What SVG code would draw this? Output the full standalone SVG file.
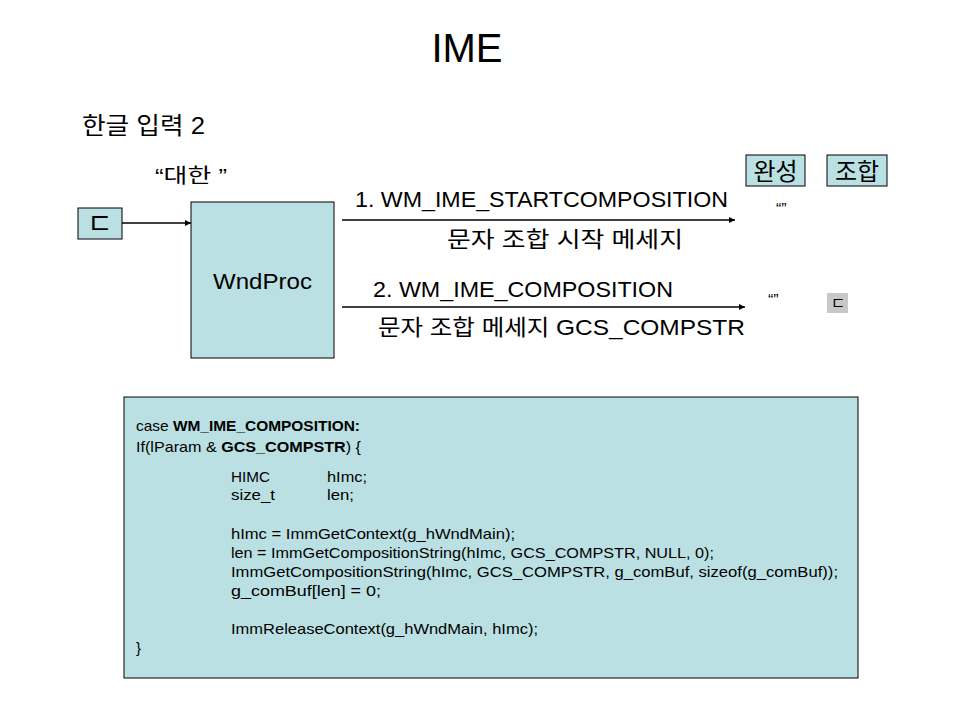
<svg xmlns="http://www.w3.org/2000/svg" width="960" height="720" viewBox="0 0 960 720">
<defs>
<style>
text{font-family:"Liberation Sans","Noto Sans CJK KR",sans-serif;fill:#000}
.box{fill:#BBE0E3;stroke:#000;stroke-width:1}
.lbl{font-size:22px}
.code{font-size:15px}
.b{font-weight:bold}
.edge{stroke:#000;stroke-width:1.3;fill:none;marker-end:url(#ah)}
</style>
<marker id="ah" viewBox="0 0 10 10" refX="10" refY="5" markerWidth="8" markerHeight="6" markerUnits="userSpaceOnUse" orient="auto">
<path d="M0,0 L10,5 L0,10 z" fill="#000"/>
</marker>
</defs>
<rect width="960" height="720" fill="#fff"/>
<text x="467" y="62" font-size="40" text-anchor="middle">IME</text>
<text x="82" y="134" font-size="24" textLength="123" lengthAdjust="spacingAndGlyphs">한글 입력 2</text>
<text x="155" y="183" font-size="20" textLength="72" lengthAdjust="spacingAndGlyphs">“대한 ”</text>

<g id="node-input">
<rect class="box" x="78" y="208" width="44" height="31"/>
<text x="100" y="234" font-size="28" text-anchor="middle">ㄷ</text>
</g>
<g id="node-wndproc">
<rect class="box" x="191" y="202" width="143" height="156"/>
<text x="213" y="289" class="lbl" textLength="99" lengthAdjust="spacingAndGlyphs">WndProc</text>
</g>
<g id="node-complete">
<rect class="box" x="746" y="155" width="59" height="31"/>
<text x="775.5" y="180" font-size="24" text-anchor="middle">완성</text>
</g>
<g id="node-compose">
<rect class="box" x="827" y="155" width="60" height="31"/>
<text x="857" y="180" font-size="24" text-anchor="middle">조합</text>
</g>
<g id="node-result">
<rect x="827" y="293" width="21" height="20" fill="#C8C8C8"/>
<text x="838" y="309" font-size="16" text-anchor="middle">ㄷ</text>
</g>

<g id="connectors">
<line class="edge" x1="122" y1="223" x2="191" y2="223"/>
<line class="edge" x1="342" y1="220" x2="735" y2="220"/>
<line class="edge" x1="342" y1="307" x2="745" y2="307"/>
</g>

<text x="355" y="207" class="lbl" textLength="373" lengthAdjust="spacingAndGlyphs">1. WM_IME_STARTCOMPOSITION</text>
<text x="447" y="247" class="lbl" textLength="236" lengthAdjust="spacingAndGlyphs">문자 조합 시작 메세지</text>
<text x="373" y="297" class="lbl" textLength="300" lengthAdjust="spacingAndGlyphs">2. WM_IME_COMPOSITION</text>
<text x="378" y="335" class="lbl" textLength="367" lengthAdjust="spacingAndGlyphs">문자 조합 메세지 GCS_COMPSTR</text>
<text x="776" y="215" font-size="16">“”</text>
<text x="768" y="306" font-size="16">“”</text>

<g id="node-code">
<rect class="box" x="124" y="397" width="734" height="281"/>
<text class="code" x="136" y="431" textLength="224" lengthAdjust="spacingAndGlyphs">case <tspan class="b">WM_IME_COMPOSITION:</tspan></text>
<text class="code" x="136" y="452" textLength="225" lengthAdjust="spacingAndGlyphs">If(lParam &amp; <tspan class="b">GCS_COMPSTR</tspan>) {</text>
<text class="code" x="231" y="482" textLength="39" lengthAdjust="spacingAndGlyphs">HIMC</text>
<text class="code" x="327" y="482" textLength="40" lengthAdjust="spacingAndGlyphs">hImc;</text>
<text class="code" x="231" y="500" textLength="44" lengthAdjust="spacingAndGlyphs">size_t</text>
<text class="code" x="327" y="500" textLength="27" lengthAdjust="spacingAndGlyphs">len;</text>
<text class="code" x="231" y="539" textLength="284" lengthAdjust="spacingAndGlyphs">hImc = ImmGetContext(g_hWndMain);</text>
<text class="code" x="231" y="558" textLength="483" lengthAdjust="spacingAndGlyphs">len = ImmGetCompositionString(hImc, GCS_COMPSTR, NULL, 0);</text>
<text class="code" x="231" y="577" textLength="607" lengthAdjust="spacingAndGlyphs">ImmGetCompositionString(hImc, GCS_COMPSTR, g_comBuf, sizeof(g_comBuf));</text>
<text class="code" x="231" y="596" textLength="150" lengthAdjust="spacingAndGlyphs">g_comBuf[len] = 0;</text>
<text class="code" x="231" y="634" textLength="307" lengthAdjust="spacingAndGlyphs">ImmReleaseContext(g_hWndMain, hImc);</text>
<text class="code" x="136" y="653">}</text>
</g>
</svg>
